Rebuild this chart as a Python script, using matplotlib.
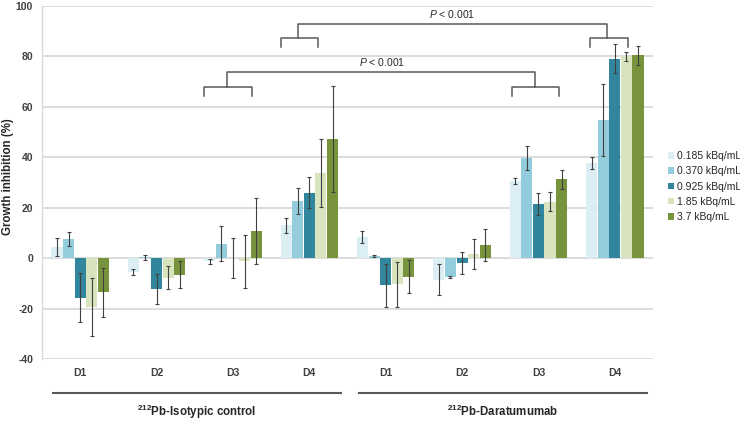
import numpy as np
import matplotlib.pyplot as plt
from matplotlib.patches import Patch

plt.rcParams['font.family'] = ['Liberation Sans', 'DejaVu Sans']
plt.rcParams['mathtext.fontset'] = 'custom'
plt.rcParams['mathtext.it'] = 'Liberation Sans:italic'
plt.rcParams['mathtext.rm'] = 'Liberation Sans'
plt.rcParams['axes.unicode_minus'] = False

# categories
days = ['D1', 'D2', 'D3', 'D4', 'D1', 'D2', 'D3', 'D4']
groups = [r'$\mathregular{^{212}}$Pb-Isotypic control', r'$\mathregular{^{212}}$Pb-Daratumumab']
doses = ['0.185 kBq/mL', '0.370 kBq/mL', '0.925 kBq/mL', '1.85 kBq/mL', '3.7 kBq/mL']
colors = ['#DBEEF4', '#93CDDD', '#31859C', '#D7E4BD', '#77933C']

# growth inhibition (%) per dose, 8 categories (isotypic D1-D4, daratumumab D1-D4)
val_0185 = [4.4, -5.6, -1.3, 13.0, 8.3, -8.5, 30.6, 37.7]
val_0370 = [7.7, 0.3, 5.8, 22.6, 0.8, -7.5, 39.8, 54.9]
val_0925 = [-15.7, -12.2, 0.1, 26.0, -10.8, -1.9, 21.6, 79.1]
val_185 = [-19.4, -7.8, -1.2, 33.8, -10.4, 1.5, 22.4, 80.0]
val_37 = [-13.6, -6.6, 10.8, 47.2, -7.3, 5.2, 31.2, 80.4]

err_0185 = [3.4, 1.2, 0.9, 3.0, 2.4, 6.0, 1.1, 2.3]
err_0370 = [2.8, 1.0, 6.9, 5.2, 0.3, 0.3, 4.7, 14.2]
err_0925 = [9.8, 5.9, 8.0, 6.1, 8.5, 4.3, 4.4, 5.7]
err_185 = [11.6, 4.6, 10.5, 13.6, 9.0, 5.9, 3.8, 1.9]
err_37 = [9.8, 5.3, 13.0, 21.0, 6.5, 6.3, 3.9, 3.6]

values = [val_0185, val_0370, val_0925, val_185, val_37]
errors = [err_0185, err_0370, err_0925, err_185, err_37]

fig = plt.figure(figsize=(7.4, 4.21), dpi=100)
ax = fig.add_axes([0.0568, 0.1473, 0.8256, 0.8384])

x = np.arange(len(days))
step = 0.152
for k in range(5):
    ax.bar(x + (k - 2) * step, values[k], width=0.145, color=colors[k],
           yerr=errors[k], error_kw=dict(ecolor='#404040', elinewidth=0.8,
                                         capsize=1.5, capthick=0.8),
           zorder=2)

ax.set_xlim(-0.5, 7.5)
ax.set_ylim(-40, 100)
ax.set_yticks(np.arange(-40, 101, 20))
ax.yaxis.grid(True, color='#D9D9D9', linewidth=1.3, zorder=0)
ax.set_axisbelow(True)
for s in ['top', 'right', 'bottom']:
    ax.spines[s].set_visible(False)
ax.spines['left'].set_color('#D9D9D9')
ax.spines['left'].set_linewidth(1.0)
ax.tick_params(axis='both', length=0, labelsize=7.5, labelcolor='#404040', pad=6.5)
for lab in ax.get_yticklabels():
    lab.set_fontweight('bold')
ax.set_xticks([])
ax.set_ylabel('Growth inhibition (%)', fontsize=8.3, fontweight='bold', color='#262626', va='center')
ax.yaxis.set_label_coords(-0.055, 0.518)

# day labels, group lines and group names below the axis
trans = ax.get_xaxis_transform()
for i, d in enumerate(days):
    ax.text(i, -0.039, d, transform=trans, ha='center', va='center',
            fontsize=7.5, fontweight='bold', color='#404040')
ax.plot([-0.356, 3.41], [-0.096, -0.096], transform=trans, color='#595959', lw=1.5, clip_on=False)
ax.plot([3.65, 7.42], [-0.096, -0.096], transform=trans, color='#595959', lw=1.5, clip_on=False)
ax.text(1.53, -0.149, groups[0], transform=trans, ha='center', va='center',
        fontsize=8.3, fontweight='bold', color='#262626')
ax.text(5.53, -0.149, groups[1], transform=trans, ha='center', va='center',
        fontsize=8.3, fontweight='bold', color='#262626')

# significance brackets
bc = '#595959'
def bracket(x0, x1, y_small, y_tick, xm, y_top, xr0, xr1, xm2):
    ax.plot([x0, x0, x1, x1], [y_tick, y_small, y_small, y_tick], color=bc, lw=1.1, clip_on=False)
    ax.plot([xr0, xr0, xr1, xr1], [y_tick, y_small, y_small, y_tick], color=bc, lw=1.1, clip_on=False)
    ax.plot([xm, xm, xm2, xm2], [y_small, y_top, y_top, y_small], color=bc, lw=1.1, clip_on=False)

bracket(2.63, 3.11, 87.2, 83.6, 2.85, 92.7, 6.67, 7.17, 6.90)
bracket(1.62, 2.25, 67.7, 64.2, 1.92, 73.8, 5.65, 6.27, 5.96)
ax.text(4.87, 96.7, r'$P$ < 0.001', ha='center', va='center', fontsize=7.5, color='#262626')
ax.text(3.95, 77.7, r'$P$ < 0.001', ha='center', va='center', fontsize=7.5, color='#262626')

handles = [Patch(facecolor=c, edgecolor='none') for c in colors]
fig.legend(handles, doses, loc='center left', bbox_to_anchor=(0.89, 0.557),
           frameon=False, fontsize=7.5, handlelength=0.6, handleheight=0.6,
           handletextpad=0.3, labelspacing=0.5, labelcolor='#262626')

fig.savefig('out.png', dpi=100)
